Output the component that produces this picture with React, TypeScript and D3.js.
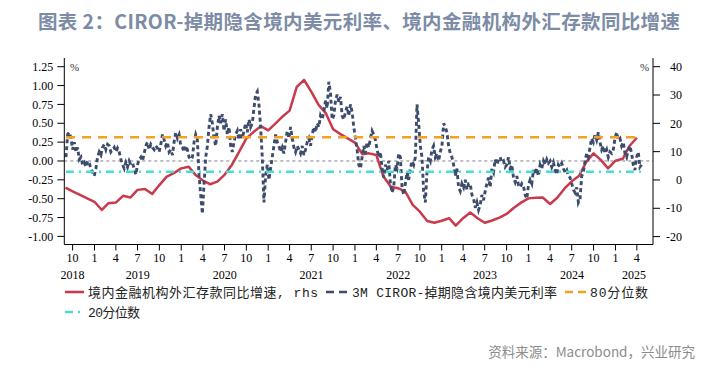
import React from 'react';
import * as d3 from 'd3';

// ---------- DATA ----------
// 境内金融机构外汇存款同比增速 (%, rhs), monthly from 2018-09
const depositStartMonth = '2018-09-01';
const deposit2018 = [-2.7, -4.0, -5.3, -6.5];
const deposit2019 = [-7.7, -10.6, -8.2, -8.0, -5.6, -6.2, -3.5, -3.2, -4.9, -1.8, 1.2, 2.4];
const deposit2020 = [4.1, 4.7, 1.8, -0.2, -1.5, -0.6, 1.8, 5.3, 10.0, 14.7, 17.0, 19.0];
const deposit2021 = [17.5, 20.0, 22.3, 24.5, 32.9, 35.3, 31.2, 26.5, 23.5, 17.9, 16.2, 14.7];
const deposit2022 = [13.2, 9.1, 9.4, 8.8, 1.2, -2.4, -2.9, -4.1, -8.8, -11.2, -14.5, -15.1];
const deposit2023 = [-14.4, -13.5, -16.1, -13.5, -11.5, -13.5, -15.1, -14.3, -13.3, -12.0, -9.8, -8.0];
const deposit2024 = [-6.5, -6.3, -6.2, -8.5, -6.3, -3.0, -0.5, 1.5, 6.5, 9.4, 7.0, 4.1];
const deposit2025 = [6.8, 7.5, 12.0, 14.9];

// 3M CIROR-掉期隐含境内美元利率 (%), weekly from 2018-09-03
const cirorStartWeek = '2018-09-03';
const cirorA = [0.05, 0.35, 0.38, 0.30, 0.15, 0.25, 0.12, 0.18, 0.02, 0.05,
  -0.05, -0.02, -0.08, 0.0, -0.03, -0.1, -0.15, -0.2, -0.1, 0.05,
  0.12, 0.08, 0.18, 0.22, 0.15, 0.22, 0.2, 0.12, 0.15, 0.18,
  0.12, 0.17, 0.12, 0.02, -0.05, -0.1, -0.02, -0.08, 0.0, -0.05,
  -0.03, -0.1, -0.18, -0.05, 0.02, 0.05, 0.0, 0.1, 0.2, 0.25,
  0.15, 0.22, 0.18, 0.15, 0.2, 0.17, 0.12, 0.22, 0.35, 0.28,
  0.2, 0.25, 0.12, 0.15, 0.08, 0.25, 0.38, 0.3, 0.35, 0.2];
const cirorB = [0.18, 0.12, 0.2, 0.15, 0.05, 0.02, 0.05, 0.25, 0.35, 0.28,
  -0.2, -0.45, -0.7, -0.3, 0.05, 0.2, 0.45, 0.62, 0.5, 0.3,
  0.2, 0.45, 0.6, 0.5, 0.62, 0.4, 0.55, 0.35, 0.45, 0.2,
  0.12, 0.25, 0.35, 0.4, 0.28, 0.42, 0.3, 0.4, 0.5, 0.38,
  0.55, 0.45, 0.5, 0.7, 0.88, 0.92, 0.75, 0.45, 0.05, -0.55,
  -0.2, -0.05, -0.25, -0.1, 0.05, 0.2, 0.35, 0.25];
const cirorC = [0.2, 0.12, 0.18, 0.1, 0.25, 0.4, 0.3, 0.45, 0.3, 0.18,
  0.12, 0.2, 0.15, 0.1, 0.2, 0.08, 0.15, 0.25, 0.3, 0.2,
  0.35, 0.45, 0.38, 0.5, 0.45, 0.6, 0.55, 0.65, 0.8, 0.7,
  1.05, 0.9, 0.55, 0.6, 0.8, 0.88, 0.78, 0.85, 0.6, 0.55,
  0.65, 0.72, 0.6, 0.75, 0.65, 0.45, 0.3, 0.15, -0.05, -0.1,
  0.05, 0.2, 0.1, 0.25, 0.18, 0.3, 0.4, 0.35, 0.28, 0.15];
const cirorD = [0.05, 0.12, -0.1, -0.22, -0.05, -0.12, 0.0, -0.3, -0.42, -0.35,
  -0.05, -0.1, 0.1, 0.05, -0.35, -0.45, -0.3, -0.15, -0.25, -0.1,
  0.0, -0.05, 0.05, 0.75, 0.5, 0.2, 0.05, -0.4, -0.55, -0.15,
  0.05, 0.0, 0.15, 0.2, 0.05, 0.1, 0.0, 0.12, 0.2, 0.5,
  0.45, 0.38, 0.2, 0.1, 0.05, -0.05, -0.2, -0.1, -0.35, -0.4,
  -0.3, -0.35, -0.25, -0.38, -0.3];
const cirorE = [-0.3, -0.45, -0.5, -0.62, -0.55, -0.65, -0.58, -0.45, -0.52, -0.4,
  -0.3, -0.22, -0.35, -0.1, -0.15, 0.02, -0.05, 0.02, 0.05, -0.02,
  0.0, -0.08, -0.05, 0.05, -0.1, -0.05, -0.22, -0.28, -0.2, -0.32,
  -0.35, -0.3, -0.33, -0.45, -0.5, -0.32, -0.25, -0.3, -0.12, -0.18,
  -0.1, -0.2, -0.05, -0.1, 0.0, -0.05, 0.02, -0.03, 0.0, -0.08,
  -0.02, -0.12, -0.18, -0.05, -0.08, -0.03, -0.1, -0.15, -0.12, -0.2,
  -0.22, -0.3, -0.38, -0.42, -0.35, -0.55, -0.5, -0.2, -0.15, 0.0,
  0.1, 0.05, 0.18, 0.3, 0.25, 0.35, 0.28, 0.38, 0.25, 0.15,
  0.2, 0.1, 0.15, 0.05, 0.12, 0.1, 0.15, 0.3, 0.38, 0.28,
  0.3, 0.2, 0.25, 0.1, 0.05, 0.15, 0.2, 0.1, -0.05, -0.12,
  0.05, 0.12, -0.08, -0.05];

const pct80 = 0.314;
const pct20 = -0.142;

const leftTicks = [1.25, 1.0, 0.75, 0.5, 0.25, 0.0, -0.25, -0.5, -0.75, -1.0];
const rightTicks = [40, 30, 20, 10, 0, -10, -20];
const monthTicks = ['2018-10-01', '2019-01-01', '2019-04-01', '2019-07-01', '2019-10-01',
  '2020-01-01', '2020-04-01', '2020-07-01', '2020-10-01', '2021-01-01', '2021-04-01',
  '2021-07-01', '2021-10-01', '2022-01-01', '2022-04-01', '2022-07-01', '2022-10-01',
  '2023-01-01', '2023-04-01', '2023-07-01', '2023-10-01', '2024-01-01', '2024-04-01',
  '2024-07-01', '2024-10-01', '2025-01-01', '2025-04-01'];
const yearLabels = ['2018', '2019', '2020', '2021', '2022', '2023', '2024', '2025'];
const yearLabelAt = ['2018-10-01', '2019-07-02', '2020-07-02', '2021-07-02', '2022-07-02',
  '2023-07-02', '2024-07-02', '2025-03-20'];

const titleText = '图表 2：CIROR-掉期隐含境内美元利率、境内金融机构外汇存款同比增速';
const legendDeposit = '境内金融机构外汇存款同比增速, rhs';
const legendCiror = '3M CIROR-掉期隐含境内美元利率';
const legendP80 = '80分位数';
const legendP20 = '20分位数';
const sourceText = '资料来源：Macrobond，兴业研究';

// ---------- CHART ----------
const parse = d3.utcParse('%Y-%m-%d');

export default function App() {
  const W = 726, H = 372;
  const plotL = 64.3, plotR = 653, plotT = 58, plotB = 244.5;

  const x = d3.scaleUtc()
    .domain([parse('2018-08-27')!, parse('2025-06-08')!])
    .range([plotL, plotR]);
  const yL = d3.scaleLinear().domain([-1, 1.25]).range([236.4, 66.7]);
  const yR = d3.scaleLinear().domain([-20, 40]).range([236.6, 66.7]);

  const depositVals = [...deposit2018, ...deposit2019, ...deposit2020, ...deposit2021,
    ...deposit2022, ...deposit2023, ...deposit2024, ...deposit2025];
  const d0 = parse(depositStartMonth)!;
  const depositData: [Date, number][] = depositVals.map((v, i) => [d3.utcMonth.offset(d0, i), v]);

  const cirorVals = [...cirorA, ...cirorB, ...cirorC, ...cirorD, ...cirorE];
  const c0 = parse(cirorStartWeek)!;
  const cirorData: [Date, number][] = cirorVals.map((v, i) => [d3.utcDay.offset(c0, 7 * i), v]);

  const lineR = d3.line<[Date, number]>().x(d => x(d[0])).y(d => yR(d[1]));
  const lineL = d3.line<[Date, number]>().x(d => x(d[0])).y(d => yL(d[1]));

  const cEnd = x(cirorData[cirorData.length - 1][0]);
  const cStart = x(cirorData[0][0]);

  const RED = '#c93a4c';
  const NAVY = '#3d4c6c';
  const ORANGE = '#f5a01e';
  const CYAN = '#44dfd2';
  const tickFont = 'Liberation Serif, Times New Roman, serif';
  const legFont = 'Liberation Mono, Noto Sans CJK SC, monospace';

  return (
    <svg width={W} height={H} style={{ position: 'absolute', left: 0, top: 0, background: '#fff' }}>
      <rect x={0} y={0} width={W} height={H} fill="#fff" />
      {/* title */}
      <text x={38} y={29} fontFamily="Noto Sans CJK SC, sans-serif" fontWeight={700}
        fontSize={19.5} fill="#7d8ca6" textLength={642}>{titleText}</text>

      {/* zero line */}
      <line x1={plotL} x2={plotR} y1={yL(0)} y2={yL(0)} stroke="#808080" strokeWidth={1} strokeDasharray="3,3" />

      {/* deposit growth (rhs) */}
      <path d={lineR(depositData)!} fill="none" stroke={RED} strokeWidth={2.5} strokeLinejoin="round" />

      {/* CIROR */}
      <path d={lineL(cirorData)!} fill="none" stroke={NAVY} strokeWidth={2.9} strokeDasharray="4,3" />

      {/* percentiles */}
      <line x1={cStart} x2={cEnd} y1={yL(pct80)} y2={yL(pct80)} stroke={ORANGE} strokeWidth={2.6} strokeDasharray="9,7" />
      <line x1={cStart} x2={cEnd} y1={yL(pct20)} y2={yL(pct20)} stroke={CYAN} strokeWidth={2.6} strokeDasharray="8,5,2,5" />

      {/* axes */}
      <line x1={plotL} x2={plotL} y1={plotT} y2={plotB} stroke="#000" strokeWidth={1} />
      <line x1={plotR} x2={plotR} y1={plotT} y2={plotB} stroke="#000" strokeWidth={1} />
      <line x1={plotL} x2={plotR} y1={plotB} y2={plotB} stroke="#000" strokeWidth={1} />

      {leftTicks.map(t => (
        <g key={'l' + t}>
          <line x1={plotL - 7} x2={plotL} y1={yL(t)} y2={yL(t)} stroke="#000" />
          <text x={plotL - 11} y={yL(t)} dy="0.35em" textAnchor="end" fontFamily={tickFont}
            fontSize={12} fill="#000">{d3.format('.2f')(t).replace('−', '-')}</text>
        </g>
      ))}
      {rightTicks.map(t => (
        <g key={'r' + t}>
          <line x1={plotR} x2={plotR + 7} y1={yR(t)} y2={yR(t)} stroke="#000" />
          <text x={682} y={yR(t)} dy="0.35em" textAnchor="end" fontFamily={tickFont}
            fontSize={12} fill="#000">{String(t)}</text>
        </g>
      ))}
      <text x={70} y={71} fontFamily={tickFont} fontSize={11} fill="#333">%</text>
      <text x={640} y={71} fontFamily={tickFont} fontSize={11} fill="#333">%</text>

      {monthTicks.map(m => {
        const d = parse(m)!;
        const xx = x(d);
        return (
          <g key={m}>
            <line x1={xx} x2={xx} y1={plotB} y2={plotB + 6} stroke="#000" />
            <text x={xx} y={262} textAnchor="middle" fontFamily={tickFont} fontSize={12} fill="#000">
              {String(d.getUTCMonth() + 1)}
            </text>
          </g>
        );
      })}
      {yearLabels.map((yl, i) => (
        <text key={yl} x={x(parse(yearLabelAt[i])!)} y={279} textAnchor="middle"
          fontFamily={tickFont} fontSize={12} fill="#000">{yl}</text>
      ))}

      {/* legend */}
      <line x1={65} x2={84} y1={292} y2={292} stroke={RED} strokeWidth={2.6} />
      <text x={88} y={297} fontFamily={legFont} fontSize={13} fill="#222" textLength={230}>{legendDeposit}</text>
      <line x1={326} x2={350} y1={292} y2={292} stroke={NAVY} strokeWidth={2.6} strokeDasharray="8,5" />
      <text x={352} y={297} fontFamily={legFont} fontSize={13} fill="#222" textLength={205}>{legendCiror}</text>
      <line x1={565} x2={589} y1={292} y2={292} stroke={ORANGE} strokeWidth={2.6} strokeDasharray="8,5" />
      <text x={590} y={297} fontFamily={legFont} fontSize={13} fill="#222" textLength={58}>{legendP80}</text>
      <line x1={65} x2={84} y1={312} y2={312} stroke={CYAN} strokeWidth={2.6} strokeDasharray="8,5,2,5" />
      <text x={88} y={317} fontFamily={legFont} fontSize={13} fill="#222" textLength={52}>{legendP20}</text>

      {/* source */}
      <text x={695} y={357} textAnchor="end" fontFamily="Noto Sans CJK SC, sans-serif" fontSize={13.5}
        fill="#8c8c8c">{sourceText}</text>
    </svg>
  );
}
